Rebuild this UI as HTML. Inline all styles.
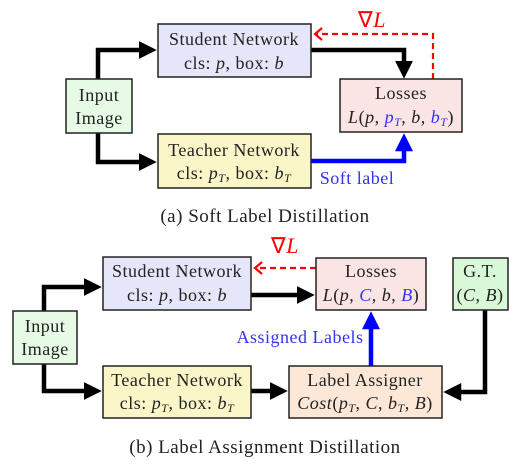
<!DOCTYPE html>
<html><head><style>body{margin:0;background:#fff}svg{display:block}text{font-family:"Liberation Serif",serif;font-size:18px;letter-spacing:0.5px;fill:#222}.i{font-style:italic}.b{fill:#3333ee}</style></head><body>
<svg width="527" height="466" viewBox="0 0 527 466">
<defs>
<marker id="ak" markerWidth="4" markerHeight="4" refX="2.5" refY="2" orient="auto" markerUnits="strokeWidth"><path d="M0,0L4,2L0,4Z" fill="#000"/></marker>
<marker id="ab" markerWidth="4" markerHeight="4" refX="2.5" refY="2" orient="auto" markerUnits="strokeWidth"><path d="M0,0L4,2L0,4Z" fill="#00f"/></marker>
</defs>
<g stroke="#000" stroke-width="4.5" fill="none">
<path d="M98,80V50H150" marker-end="url(#ak)"/>
<path d="M98,132V162H150" marker-end="url(#ak)"/>
<path d="M311,50H404V72" marker-end="url(#ak)"/>
<path d="M311,161H404V140" stroke="#00f" marker-end="url(#ab)"/>
<path d="M44,312V287H95" marker-end="url(#ak)"/>
<path d="M44,363V391H95" marker-end="url(#ak)"/>
<path d="M251,295H308" marker-end="url(#ak)"/>
<path d="M251,391H281" marker-end="url(#ak)"/>
<path d="M485,310V392H450" marker-end="url(#ak)"/>
<path d="M371,366V318" stroke="#00f" marker-end="url(#ab)"/>
</g>
<g stroke="#f00" stroke-width="2.2" fill="none">
<path d="M433,79V34H316" stroke-dasharray="6,4"/>
<path d="M322,28L315,34L322,40"/>
<path d="M316,268H256" stroke-dasharray="6,4"/>
<path d="M262,262L255,268L262,274"/>
</g>
<g stroke="#222" stroke-width="1.5">
<rect x="158" y="24" width="153" height="53" fill="#e6e6fa"/>
<rect x="66" y="79" width="66" height="54" fill="#e6fae6"/>
<rect x="158" y="134" width="153" height="54" fill="#fbf6c8"/>
<rect x="340" y="79" width="122" height="53" fill="#fbe4e4"/>
<rect x="103" y="257" width="148" height="53" fill="#e6e6fa"/>
<rect x="316" y="258" width="110" height="52" fill="#fbe4e4"/>
<rect x="453" y="258" width="55" height="52" fill="#d8f8d8"/>
<rect x="13" y="311" width="64" height="53" fill="#e6fae6"/>
<rect x="103" y="366" width="148" height="52" fill="#fbf6c8"/>
<rect x="289" y="366" width="153" height="52" fill="#fde8d8"/>
</g>
<g text-anchor="middle">
<text x="234" y="45">Student Network</text>
<text x="234" y="69">cls: <tspan class="i">p</tspan>, box: <tspan class="i">b</tspan></text>
<text x="99" y="101">Input</text>
<text x="99" y="124">Image</text>
<text x="234" y="156">Teacher Network</text>
<text x="234" y="179">cls: <tspan class="i">p</tspan><tspan class="i" font-size="12" dy="3">T</tspan><tspan dy="-3">, box: </tspan><tspan class="i">b</tspan><tspan class="i" font-size="12" dy="3">T</tspan></text>
<text x="401" y="99">Losses</text>
<text x="401" y="123"><tspan class="i">L</tspan>(<tspan class="i">p</tspan>, <tspan class="i b">p</tspan><tspan class="i b" font-size="12" dy="3">T</tspan><tspan dy="-3">, </tspan><tspan class="i">b</tspan>, <tspan class="i b">b</tspan><tspan class="i b" font-size="12" dy="3">T</tspan><tspan dy="-3">)</tspan></text>
<text x="372" y="27" style="fill:#f00;font-size:22px">∇<tspan class="i" style="fill:#f00">L</tspan></text>
<text x="357" y="184" class="b">Soft label</text>
<text x="265" y="222" style="font-size:19px">(a) Soft Label Distillation</text>
<text x="177" y="277">Student Network</text>
<text x="177" y="301">cls: <tspan class="i">p</tspan>, box: <tspan class="i">b</tspan></text>
<text x="371" y="277">Losses</text>
<text x="371" y="301"><tspan class="i">L</tspan>(<tspan class="i">p</tspan>, <tspan class="i b">C</tspan>, <tspan class="i">b</tspan>, <tspan class="i b">B</tspan>)</text>
<text x="480" y="277">G.T.</text>
<text x="480" y="301">(<tspan class="i">C</tspan>, <tspan class="i">B</tspan>)</text>
<text x="45" y="332">Input</text>
<text x="45" y="355">Image</text>
<text x="177" y="386">Teacher Network</text>
<text x="177" y="409">cls: <tspan class="i">p</tspan><tspan class="i" font-size="12" dy="3">T</tspan><tspan dy="-3">, box: </tspan><tspan class="i">b</tspan><tspan class="i" font-size="12" dy="3">T</tspan></text>
<text x="365" y="386">Label Assigner</text>
<text x="365" y="409"><tspan class="i">Cost</tspan>(<tspan class="i">p</tspan><tspan class="i" font-size="12" dy="3">T</tspan><tspan dy="-3">, </tspan><tspan class="i">C</tspan>, <tspan class="i">b</tspan><tspan class="i" font-size="12" dy="3">T</tspan><tspan dy="-3">, </tspan><tspan class="i">B</tspan>)</text>
<text x="285" y="253" style="fill:#f00;font-size:22px">∇<tspan class="i" style="fill:#f00">L</tspan></text>
<text x="300" y="343" class="b">Assigned Labels</text>
<text x="265" y="453" style="font-size:19px">(b) Label Assignment Distillation</text>
</g>
</svg>
</body></html>
